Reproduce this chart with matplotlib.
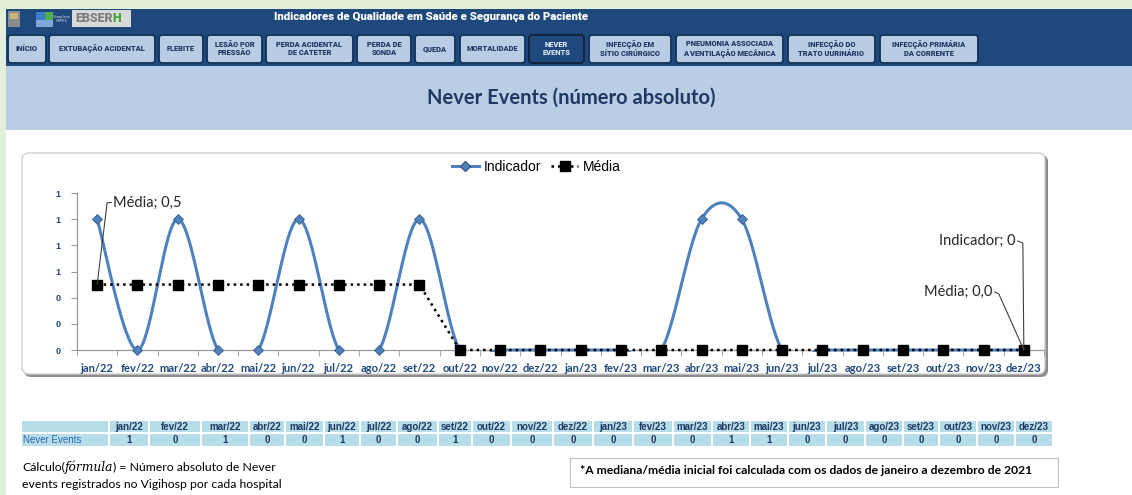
import numpy as np
import matplotlib
matplotlib.use("Agg")
import matplotlib.pyplot as plt
from matplotlib.patches import Rectangle, FancyBboxPatch
from matplotlib.lines import Line2D

# data
months = ["jan/22", "fev/22", "mar/22", "abr/22", "mai/22", "jun/22", "jul/22", "ago/22",
          "set/22", "out/22", "nov/22", "dez/22", "jan/23", "fev/23", "mar/23", "abr/23",
          "mai/23", "jun/23", "jul/23", "ago/23", "set/23", "out/23", "nov/23", "dez/23"]
indicador = [1, 0, 1, 0, 0, 1, 0, 0, 1, 0, 0, 0, 0, 0, 0, 1, 1, 0, 0, 0, 0, 0, 0, 0]
media = [0.5, 0.5, 0.5, 0.5, 0.5, 0.5, 0.5, 0.5, 0.5, 0, 0, 0, 0, 0, 0, 0, 0, 0, 0, 0, 0, 0, 0, 0]
y_ticks = [0, 0.2, 0.4, 0.6, 0.8, 1.0, 1.2]

buttons = ["INÍCIO", "EXTUBAÇÃO ACIDENTAL", "FLEBITE", "LESÃO POR\nPRESSÃO",
           "PERDA ACIDENTAL\nDE CATETER", "PERDA DE\nSONDA", "QUEDA", "MORTALIDADE",
           "NEVER\nEVENTS", "INFECÇÃO EM\nSÍTIO CIRÚRGICO", "PNEUMONIA ASSOCIADA\nA VENTILAÇÃO MECÂNICA",
           "INFECÇÃO DO\nTRATO UURINÁRIO", "INFECÇÃO PRIMÁRIA\nDA CORRENTE"]
selected = "NEVER\nEVENTS"

# layout (pixels)
W, H = 1132, 495
btn_x = [(8, 46), (49, 155), (159, 203), (207, 262), (266, 353), (357, 411), (415, 455),
         (460, 525), (529, 584), (589, 671), (676, 783), (788, 875), (880, 978)]
col_edges = [(110, 148), (150, 200), (202, 248), (250, 284), (286, 323), (325, 359),
             (361, 396), (398, 437), (439, 471), (473, 510), (512, 552), (554, 592),
             (594, 632), (634, 672), (674, 711), (713, 749), (751, 787), (789, 825),
             (827, 864), (866, 902), (904, 938), (940, 976), (978, 1014), (1016, 1052)]

blue = "#4F81BD"
tick_blue = "#1F497D"


def smooth(vals, n=40):
    pts = np.column_stack([np.arange(len(vals)), vals]).astype(float)
    ext = np.vstack([pts[0], pts, pts[-1]])
    t = np.linspace(0, 1, n)[:, None]
    segs = []
    for i in range(len(vals) - 1):
        p0, p3 = ext[i + 1], ext[i + 2]
        c1 = p0 + (ext[i + 2] - ext[i]) / 6
        c2 = p3 - (ext[i + 3] - ext[i + 1]) / 6
        segs.append((1 - t) ** 3 * p0 + 3 * (1 - t) ** 2 * t * c1 + 3 * (1 - t) * t ** 2 * c2 + t ** 3 * p3)
    return np.vstack(segs)


fig = plt.figure(figsize=(W / 100, H / 100), dpi=100)
fig.patch.set_facecolor("white")
renderer = fig.canvas.get_renderer()

bg = fig.add_axes([0, 0, 1, 1])
bg.set_xlim(0, W)
bg.set_ylim(H, 0)
bg.axis("off")


def text_run(ax_, x0, y0, pieces):
    # place text pieces one after another on a line
    xcur = x0
    for s, kw in pieces:
        t = ax_.text(xcur, y0, s, ha="left", va="center", **kw)
        xcur += t.get_window_extent(renderer).width


# page background strips
bg.add_patch(Rectangle((0, 0), W, 9, color="#E2EFDA", lw=0))
bg.add_patch(Rectangle((0, 0), 6, H, color="#E2EFDA", lw=0))
bg.add_patch(Rectangle((6, 9), W - 6, 57, color="#1F497D", lw=0))
bg.add_patch(Rectangle((6, 66), W - 6, 64, color="#B9CDE5", lw=0))

# logos
bg.add_patch(Rectangle((8, 11), 12, 16, color="#8C8C8C", lw=0))
bg.add_patch(Rectangle((10, 13), 8, 6, color="#C9B27C", lw=0))
bg.add_patch(Rectangle((36, 12), 9, 8, color="#3C7DC4", lw=0))
bg.add_patch(Rectangle((45, 12), 8, 8, color="#4CAF50", lw=0))
bg.add_patch(Rectangle((36, 20), 17, 7, color="#7FA7D8", lw=0))
bg.text(62, 19, "Complexo\nHUPES", fontsize=2.5, color="#DCE6F2", ha="center", va="center",
        linespacing=0.9)
bg.add_patch(Rectangle((72, 10), 59, 17, color="#D9D9D9", lw=0))
logo_kw = dict(fontsize=9, fontweight="heavy", family="Roboto")
text_run(bg, 75, 18.5, [("EBSER", dict(color="#7F7F7F", **logo_kw)),
                        ("H", dict(color="#3FA535", **logo_kw))])

bg.text(431, 17, "Indicadores de Qualidade em Saúde e Segurança do Paciente", color="white",
        fontsize=8.2, fontweight="heavy", family="Roboto", ha="center", va="center")

# navigation buttons
for label, (x0, x1) in zip(buttons, btn_x):
    sel = label == selected
    bg.add_patch(FancyBboxPatch((x0, 35), x1 - x0, 28,
                                boxstyle="round,pad=0,rounding_size=3",
                                fc="#1F497D" if sel else "#B8CCE4",
                                ec="#10263F" if sel else "#17375E", lw=1.4))
    bg.text((x0 + x1) / 2, 49, label, fontsize=5.4, fontweight="heavy", family="Roboto",
            color="#DCE6F2" if sel else "#1F3864", ha="center", va="center", linespacing=1.1)

bg.text(571, 98, "Never Events (número absoluto)", fontsize=14.5, fontweight="bold",
        family="Lato", color="#1F3864", ha="center", va="center")

# chart frame with shadow
bg.add_patch(FancyBboxPatch((24, 155), 1024, 222, boxstyle="round,pad=0,rounding_size=7",
                            fc="#8C8C8C", ec="none"))
bg.add_patch(FancyBboxPatch((22, 153), 1023, 221, boxstyle="round,pad=0,rounding_size=7",
                            fc="white", ec="#D0D0D0", lw=1))

# chart
ax = fig.add_axes([77 / W, (H - 350) / H, (1044 - 77) / W, (350 - 193) / H])
ax.set_facecolor("none")
ax.set_xlim(-0.5, len(months) - 0.5)
ax.set_ylim(0, 1.2)
x = np.arange(len(months))

curve = smooth(indicador)
line, = ax.plot(curve[:, 0], curve[:, 1], color=blue, lw=2.2, zorder=3, solid_capstyle="round")
clip = Rectangle((-0.5, -0.012), len(months), 1.4, transform=ax.transData)
line.set_clip_path(clip)
ax.plot(x, indicador, ls="none", marker="D", ms=5, mfc=blue, mec="#385D8A", mew=0.6,
        zorder=4, clip_on=False)
ax.plot(x, media, color="black", ls=(0, (1, 1.6)), lw=1.8, marker="s", ms=6.5,
        mfc="black", mec="black", zorder=5, clip_on=False)

for s in ["top", "right"]:
    ax.spines[s].set_visible(False)
for s in ["left", "bottom"]:
    ax.spines[s].set_color("#9A9A9A")
    ax.spines[s].set_linewidth(0.9)

ax.set_yticks(y_ticks)
ax.set_yticklabels(["{:.0f}".format(v) for v in y_ticks])
ax.tick_params(axis="y", length=4, color="#9A9A9A", pad=8, labelsize=6.5, labelcolor=tick_blue)
for lab in ax.get_yticklabels():
    lab.set_fontweight("bold")
    lab.set_family("Liberation Sans")

ax.set_xticks(x)
ax.set_xticklabels(months)
ax.set_xticks(np.arange(-0.5, len(months)), minor=True)
ax.tick_params(axis="x", which="major", length=0, pad=9, labelsize=8, labelcolor=tick_blue)
ax.tick_params(axis="x", which="minor", length=4, color="#9A9A9A")
for lab in ax.get_xticklabels():
    lab.set_fontweight("bold")
    lab.set_family("Lato")

handles = [Line2D([], [], color=blue, lw=2.2, marker="D", ms=5, mfc=blue, mec="#385D8A"),
           Line2D([], [], color="black", ls=(0, (1, 1.6)), lw=1.8, marker="s", ms=6.5)]
ax.legend(handles, ["Indicador", "Média"], loc="center", ncol=2, frameon=False,
          bbox_to_anchor=(536 / W, 1 - 167 / H), bbox_transform=fig.transFigure,
          prop={"family": "Liberation Sans", "size": 10}, handlelength=2.0,
          handletextpad=0.3, columnspacing=0.7)

# data labels (offsets in pixels from the point)
ov = fig.add_axes([0, 0, 1, 1], zorder=10)
ov.set_xlim(0, W)
ov.set_ylim(H, 0)
ov.axis("off")


def to_px(xd, yd):
    dx, dy = ax.transData.transform((xd, yd))
    return dx, H - dy


def data_label(i, vals, text, tx, ty, path):
    px, py = to_px(i, vals[i])
    xs = [px + p[0] for p in path]
    ys = [py + p[1] for p in path]
    ov.plot(xs, ys, color="#404040", lw=0.8)
    ov.text(px + tx, py + ty, text, fontsize=10.5, family="Lato", color="#262626",
            ha="left" if tx > 0 else "right", va="center")


data_label(0, media, "Média; {:.1f}".format(media[0]).replace(".", ","), 16, -82,
           [(0, 0), (10, -82), (14, -82)])
n = len(months) - 1
data_label(n, indicador, "Indicador; {}".format(indicador[n]), -8, -109,
           [(0, 0), (-1, -107), (-6, -109)])
data_label(n, media, "Média; {:.1f}".format(media[n]).replace(".", ","), -31, -58,
           [(0, 0), (-25, -56), (-29, -58)])

# table
for j, (x0, x1) in enumerate([(22, 108)] + col_edges):
    bg.add_patch(Rectangle((x0, 421), x1 - x0, 11, color="#B7DEE8", lw=0))
    bg.add_patch(Rectangle((x0, 434), x1 - x0, 12, color="#B7DEE8", lw=0))
for m, v, (x0, x1) in zip(months, indicador, col_edges):
    bg.text((x0 + x1) / 2, 426.5, m, fontsize=7, fontweight="bold", family="Liberation Sans",
            color="#1F3864", ha="center", va="center")
    bg.text((x0 + x1) / 2, 440, str(v), fontsize=7, fontweight="bold", family="Liberation Sans",
            color="#1F3864", ha="center", va="center")
bg.text(23, 440, "Never Events", fontsize=7, family="Liberation Sans", color="#2E67B1",
        ha="left", va="center")

# notes
note_kw = dict(fontsize=8.8, family="Lato", color="black")
text_run(bg, 22, 467, [("Cálculo(", note_kw),
                       ("fórmula", dict(fontsize=8.8, family="DejaVu Serif", style="italic",
                                         color="black")),
                       (") = Número absoluto de Never", note_kw)])
bg.text(22, 484, "events registrados no Vigihosp por cada hospital", ha="left", va="center",
        **note_kw)

bg.add_patch(Rectangle((570, 458), 488, 29, fc="white", ec="#BFBFBF", lw=0.8))
bg.text(580, 471, "*A mediana/média inicial foi calculada com os dados de janeiro a dezembro de 2021",
        fontsize=8.7, fontweight="bold", family="Lato", color="black", ha="left", va="center")

fig.savefig("out.png", dpi=100)
